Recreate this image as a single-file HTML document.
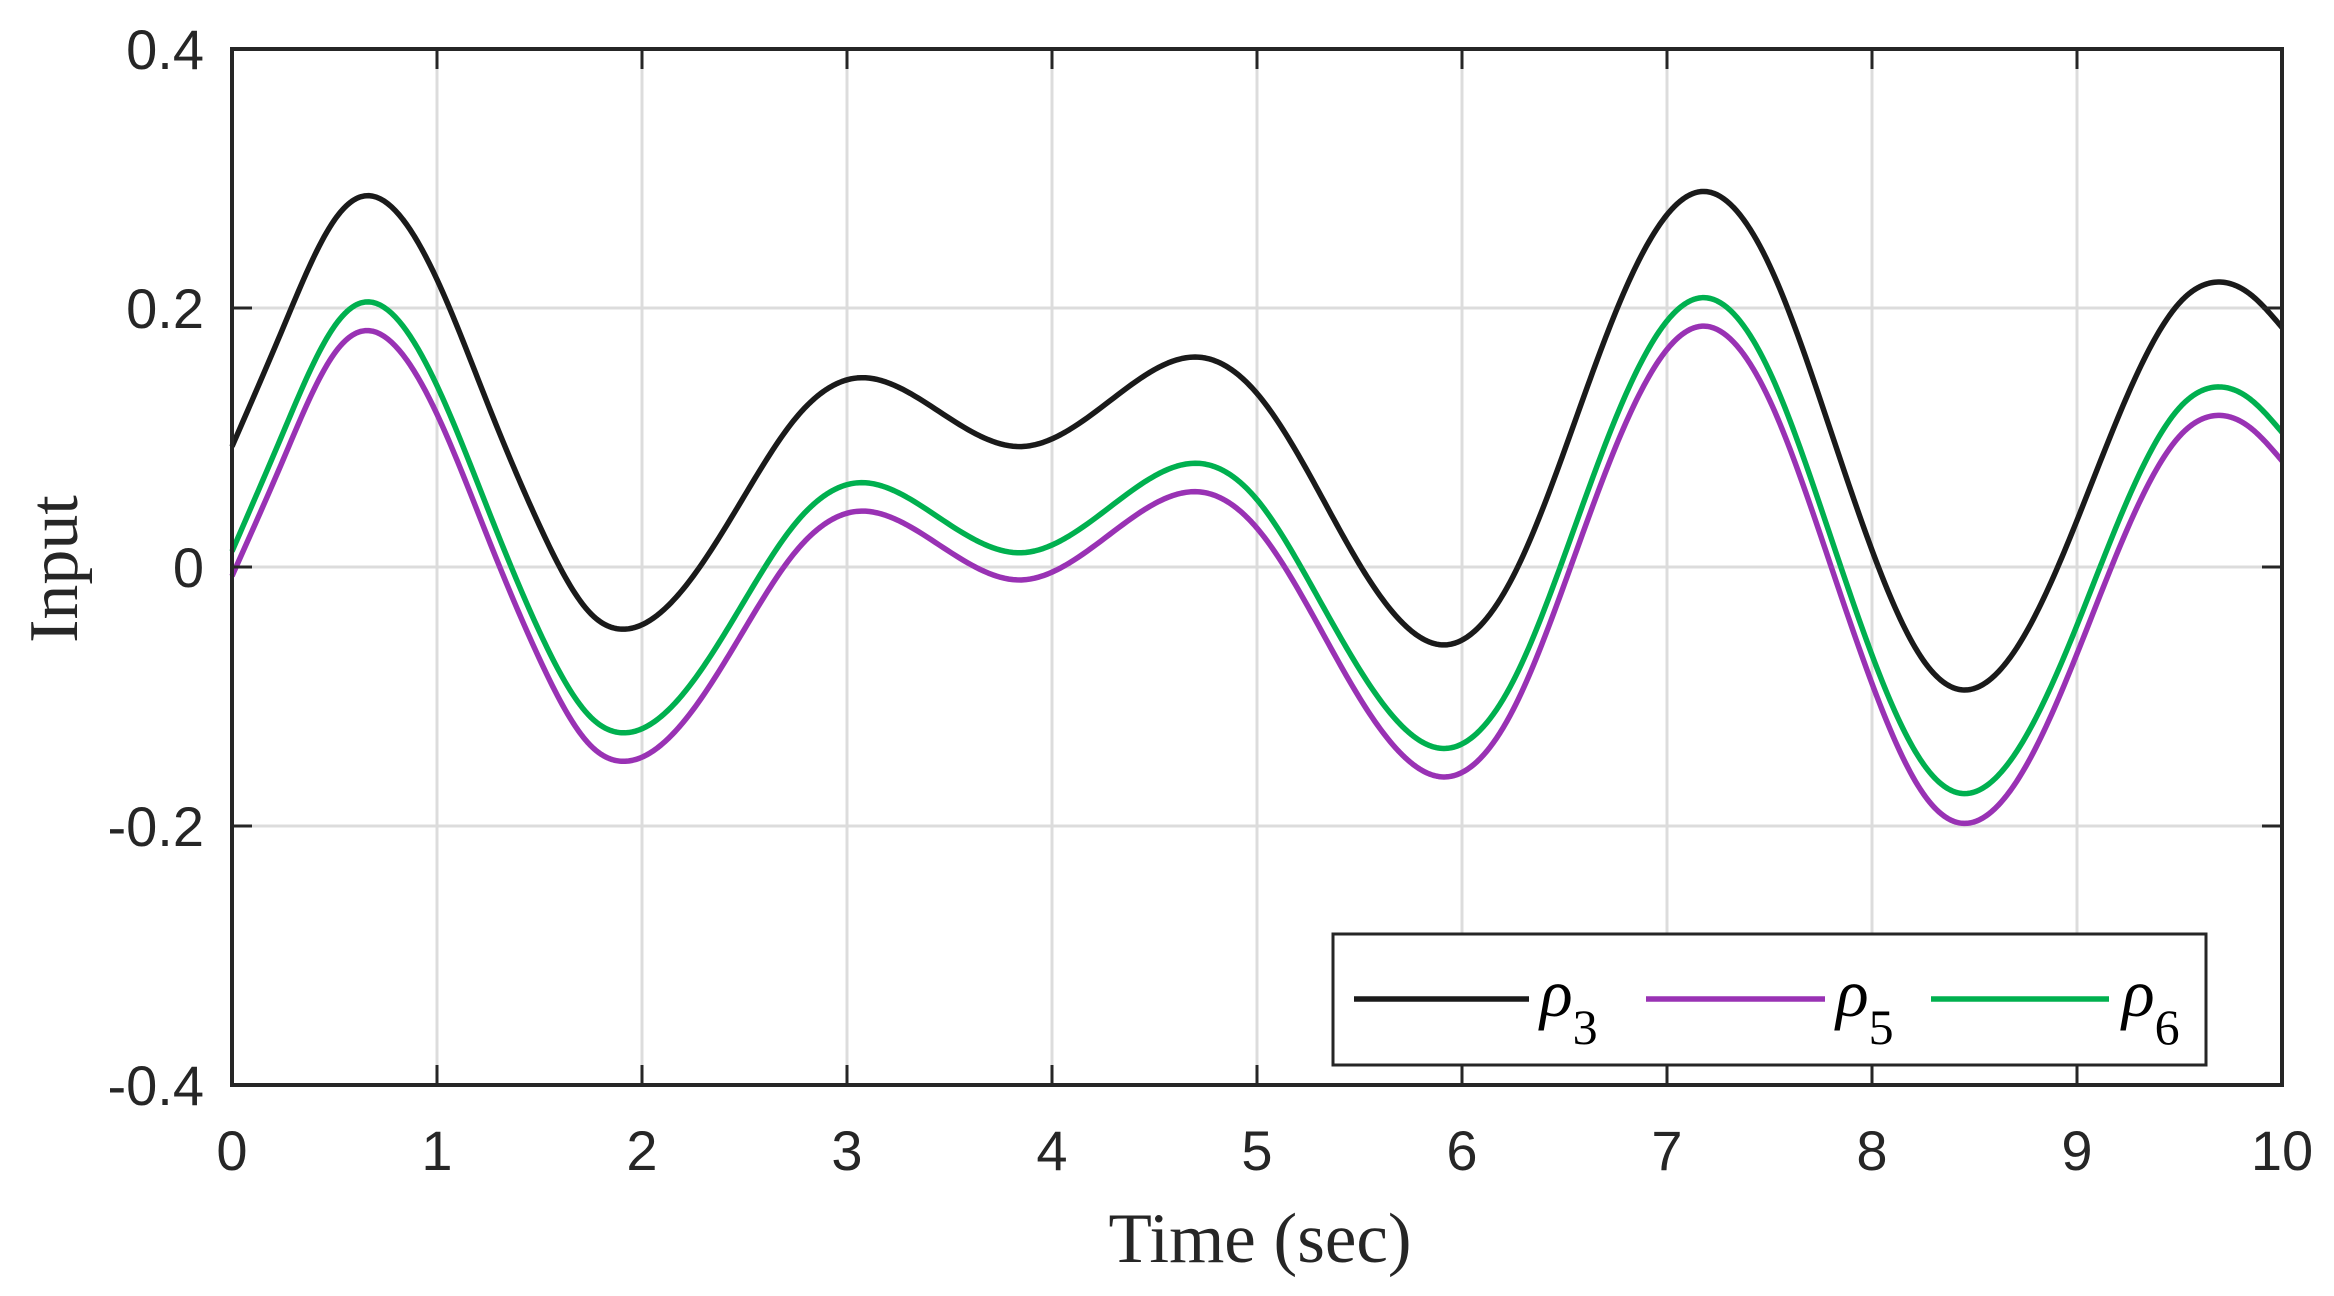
<!DOCTYPE html>
<html><head><meta charset="utf-8"><style>
html,body{margin:0;padding:0;background:#fff;}
svg{display:block;}
</style></head><body>
<svg id="chart" width="2334" height="1296" xmlns="http://www.w3.org/2000/svg">
<rect width="2334" height="1296" fill="#fff"/>
<g id="grid"></g>
<g id="series"></g>
<g id="axes"></g>
<text x="1260" y="1262" text-anchor="middle" font-family="Liberation Serif, serif" font-size="71" fill="#262626">Time (sec)</text>
<text transform="translate(77,569) rotate(-90)" text-anchor="middle" font-family="Liberation Serif, serif" font-size="70" fill="#262626">Input</text>
<g id="legend">
<rect x="1333" y="934" width="873" height="131" fill="#fff" stroke="#262626" stroke-width="3"/>
<line x1="1354" y1="999" x2="1529" y2="999" stroke="#1a1a1a" stroke-width="5.5"/>
<text x="1540" y="1016" font-family="Liberation Serif, serif" font-size="68" font-style="italic" fill="#000">ρ<tspan font-style="normal" font-size="50" dy="28">3</tspan></text>
<line x1="1646" y1="999" x2="1825" y2="999" stroke="#9932b4" stroke-width="5.5"/>
<text x="1836" y="1016" font-family="Liberation Serif, serif" font-size="68" font-style="italic" fill="#000">ρ<tspan font-style="normal" font-size="50" dy="28">5</tspan></text>
<line x1="1931" y1="999" x2="2109" y2="999" stroke="#00b04f" stroke-width="5.5"/>
<text x="2122" y="1016" font-family="Liberation Serif, serif" font-size="68" font-style="italic" fill="#000">ρ<tspan font-style="normal" font-size="50" dy="28">6</tspan></text>
</g>
</svg>
<script>
const timeValues=[0,0.25,0.5,0.63,1,1.25,1.5,1.75,1.9,2.25,2.5,2.75,3.05,3.45,3.85,4.28,4.72,5,5.25,5.5,5.75,5.93,6.25,6.5,6.75,7,7.18,7.5,7.75,8,8.25,8.45,8.75,9,9.25,9.5,9.68,9.85,10];
const rho3=[.093,.185,.268,.286,.222,.125,.032,-.036,-.048,-.007,.055,.115,.146,.12,.093,.128,.162,.134,.073,.002,-.049,-.06,-.007,.09,.197,.272,.29,.233,.128,.013,-.072,-.095,-.051,.036,.134,.204,.22,.21,.185];
const rho5=[-.007,.083,.165,.182,.118,.022,-.071,-.138,-.15,-.11,-.048,.012,.043,.017,-.01,.025,.058,.03,-.031,-.101,-.151,-.162,-.11,-.013,.093,.168,.186,.129,.024,-.09,-.175,-.198,-.154,-.067,.031,.101,.117,.107,.082];
const rho6=[.012,.104,.186,.204,.14,.044,-.05,-.116,-.128,-.088,-.026,.034,.065,.038,.011,.046,.08,.052,-.01,-.079,-.129,-.14,-.088,.009,.115,.19,.208,.151,.046,-.068,-.152,-.175,-.131,-.045,.053,.123,.139,.129,.104];
const xTicks=[0,1,2,3,4,5,6,7,8,9,10];
const yTicks=[-0.4,-0.2,0,0.2,0.4];
const yTickLabels=["-0.4","-0.2","0","0.2","0.4"];

const L=232,R=2282,T=49,B=1085;
const xs=v=>L+(v-0)/(10-0)*(R-L);
const ys=v=>B-(v+0.4)/0.8*(B-T);
const NS="http://www.w3.org/2000/svg";
function mk(tag,parent,attrs){const e=document.createElementNS(NS,tag);for(const k in attrs)e.setAttribute(k,attrs[k]);parent.appendChild(e);return e;}
const grid=document.getElementById('grid'),axes=document.getElementById('axes'),ser=document.getElementById('series');
xTicks.forEach(v=>{
  const g=mk('line',grid,{x1:xs(v),x2:xs(v),y1:T,y2:B,stroke:'#dcdcdc','stroke-width':3});
  
  
  [[B,B-20],[T,T+20]].forEach(p=>{const t=mk('line',axes,{x1:xs(v),x2:xs(v),y1:p[0],y2:p[1],stroke:'#262626','stroke-width':3});
    
    });
  const lb=mk('text',axes,{x:xs(v),y:1170,'text-anchor':'middle','font-family':'Liberation Sans, sans-serif','font-size':56,fill:'#262626'});
  lb.textContent=String(v);
  
  
});
yTicks.forEach((v,i)=>{
  const g=mk('line',grid,{x1:L,x2:R,y1:ys(v),y2:ys(v),stroke:'#dcdcdc','stroke-width':3});
  
  
  [[L,L+20],[R,R-20]].forEach(p=>{const t=mk('line',axes,{x1:p[0],x2:p[1],y1:ys(v),y2:ys(v),stroke:'#262626','stroke-width':3});
    
    });
  const lb=mk('text',axes,{x:204,y:ys(v)+20,'text-anchor':'end','font-family':'Liberation Sans, sans-serif','font-size':56,fill:'#262626'});
  lb.textContent=yTickLabels[i];
  
  
});
const frame=mk('rect',axes,{x:L,y:T,width:R-L,height:B-T,fill:'none',stroke:'#262626','stroke-width':4});


// natural cubic spline through data points, sampled finely
function path(vals){
  const x=timeValues,y=vals,n=x.length;
  const h=[],a=new Array(n).fill(0),b=new Array(n).fill(0),c=new Array(n).fill(0),r=new Array(n).fill(0);
  for(let i=0;i<n-1;i++)h.push(x[i+1]-x[i]);
  b[0]=1;b[n-1]=1;
  for(let i=1;i<n-1;i++){a[i]=h[i-1];b[i]=2*(h[i-1]+h[i]);c[i]=h[i];r[i]=6*((y[i+1]-y[i])/h[i]-(y[i]-y[i-1])/h[i-1]);}
  for(let i=1;i<n;i++){const w=a[i]/b[i-1];b[i]-=w*c[i-1];r[i]-=w*r[i-1];}
  const M=new Array(n);M[n-1]=r[n-1]/b[n-1];
  for(let i=n-2;i>=0;i--)M[i]=(r[i]-c[i]*M[i+1])/b[i];
  let s='';
  for(let i=0;i<n-1;i++){
    const steps=20;
    for(let k=(i===0?0:1);k<=steps;k++){
      const t=x[i]+h[i]*k/steps,A=(x[i+1]-t)/h[i],Bq=(t-x[i])/h[i];
      const v=A*y[i]+Bq*y[i+1]+((A*A*A-A)*M[i]+(Bq*Bq*Bq-Bq)*M[i+1])*h[i]*h[i]/6;
      s+=(s===''?'M':' L')+xs(t).toFixed(2)+','+ys(v).toFixed(2);
    }
  }
  return s;
}
[[rho3,'#1a1a1a','line-rho3'],[rho5,'#9932b4','line-rho5'],[rho6,'#00b04f','line-rho6']].forEach(s=>{
  const e=mk('path',ser,{d:path(s[0]),fill:'none',stroke:s[1],'stroke-width':5.5,'stroke-linejoin':'round'});
  
  
});
</script>
</body></html>
